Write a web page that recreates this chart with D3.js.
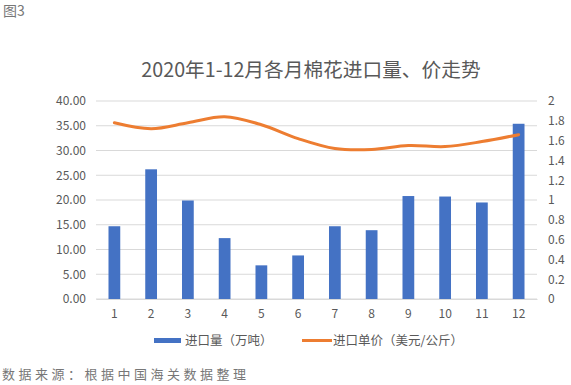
<!DOCTYPE html>
<html>
<head>
<meta charset="utf-8">
<script src="https://cdn.jsdelivr.net/npm/d3@7"></script>
<style>
  body { margin: 0; background: #fff; }
  text { font-family: "Noto Sans CJK SC", "Noto Sans", sans-serif; }
</style>
</head>
<body>
<div id="chart"></div>
<script>
let months = ['1','2','3','4','5','6','7','8','9','10','11','12'];
let volume = [14.7, 26.2, 19.9, 12.3, 6.8, 8.8, 14.7, 13.9, 20.8, 20.7, 19.5, 35.4];
let price = [1.78, 1.72, 1.78, 1.84, 1.76, 1.62, 1.52, 1.51, 1.55, 1.54, 1.59, 1.66];
let leftTicks = [0, 5, 10, 15, 20, 25, 30, 35, 40];
let rightTicks = [0, 0.2, 0.4, 0.6, 0.8, 1, 1.2, 1.4, 1.6, 1.8, 2];

function draw_chart() {
    let width = 571, height = 385;
    let m = {left: 96, right: 34, top: 101, bottom: 86};

    let svg = d3.select('#chart').append('svg')
        .attr('width', width)
        .attr('height', height);

    let x = d3.scaleBand().domain(months).range([m.left, width - m.right]).paddingInner(0.68).paddingOuter(0.34);
    let yL = d3.scaleLinear().domain([0, 40]).range([height - m.bottom, m.top]);
    let yR = d3.scaleLinear().domain([0, 2]).range([height - m.bottom, m.top]);

    // grid
    svg.append('g').selectAll('line')
        .data(leftTicks).enter().append('line')
        .attr('x1', m.left).attr('x2', width - m.right)
        .attr('y1', d => yL(d)).attr('y2', d => yL(d))
        .attr('stroke', '#d9d9d9').attr('stroke-width', 1);

    // left axis
    let gl = svg.append('g').attr('transform', `translate(${m.left},0)`)
        .call(d3.axisLeft(yL).tickValues(leftTicks).tickFormat(d3.format('.2f')).tickSize(0).tickPadding(10));
    gl.select('.domain').remove();
    gl.selectAll('text').attr('fill', '#595959').style('font-size', '12px');

    // right axis
    let gr = svg.append('g').attr('transform', `translate(${width - m.right},0)`)
        .call(d3.axisRight(yR).tickValues(rightTicks).tickFormat(d => d).tickSize(0).tickPadding(11));
    gr.select('.domain').remove();
    gr.selectAll('text').attr('fill', '#595959').style('font-size', '12px');

    // bottom axis
    let gb = svg.append('g').attr('transform', `translate(0,${height - m.bottom})`)
        .call(d3.axisBottom(x).tickSize(0).tickPadding(10));
    gb.select('.domain').attr('stroke', '#d9d9d9');
    gb.selectAll('text').attr('fill', '#595959').style('font-size', '12px');

    // bars
    svg.append('g').selectAll('rect')
        .data(volume).enter().append('rect')
        .attr('x', (d, i) => x(months[i]))
        .attr('width', x.bandwidth())
        .attr('y', d => yL(d))
        .attr('height', d => yL(0) - yL(d))
        .attr('fill', '#4472C4');

    // price line
    let line = d3.line()
        .x((d, i) => x(months[i]) + x.bandwidth() / 2)
        .y(d => yR(d))
        .curve(d3.curveCatmullRom.alpha(0.5));
    svg.append('path')
        .datum(price)
        .attr('d', line)
        .attr('fill', 'none')
        .attr('stroke', '#ED7D31')
        .attr('stroke-width', 3)
        .attr('stroke-linecap', 'round');

    // title
    svg.append('text')
        .attr('x', 311).attr('y', 77)
        .attr('text-anchor', 'middle')
        .attr('fill', '#595959')
        .style('font-size', '19.7px')
        .text('2020年1-12月各月棉花进口量、价走势');

    svg.append('text')
        .attr('x', 3).attr('y', 16)
        .attr('fill', '#777')
        .style('font-size', '14px')
        .text('图3');

    // legend
    let lg = svg.append('g');
    lg.append('rect').attr('x', 154).attr('y', 338).attr('width', 27).attr('height', 5).attr('fill', '#4472C4');
    lg.append('text').attr('x', 185).attr('y', 345).attr('fill', '#595959').style('font-size', '12.5px').text('进口量（万吨）');
    lg.append('line').attr('x1', 302).attr('x2', 332).attr('y1', 340.5).attr('y2', 340.5)
        .attr('stroke', '#ED7D31').attr('stroke-width', 3);
    lg.append('text').attr('x', 333).attr('y', 345).attr('fill', '#595959').style('font-size', '12.5px').text('进口单价（美元/公斤）');

    // source
    svg.append('text')
        .attr('x', 2).attr('y', 379)
        .attr('fill', '#777')
        .style('font-size', '13px')
        .style('letter-spacing', '3.5px')
        .text('数据来源：根据中国海关数据整理');
}

draw_chart();
</script>
</body>
</html>
